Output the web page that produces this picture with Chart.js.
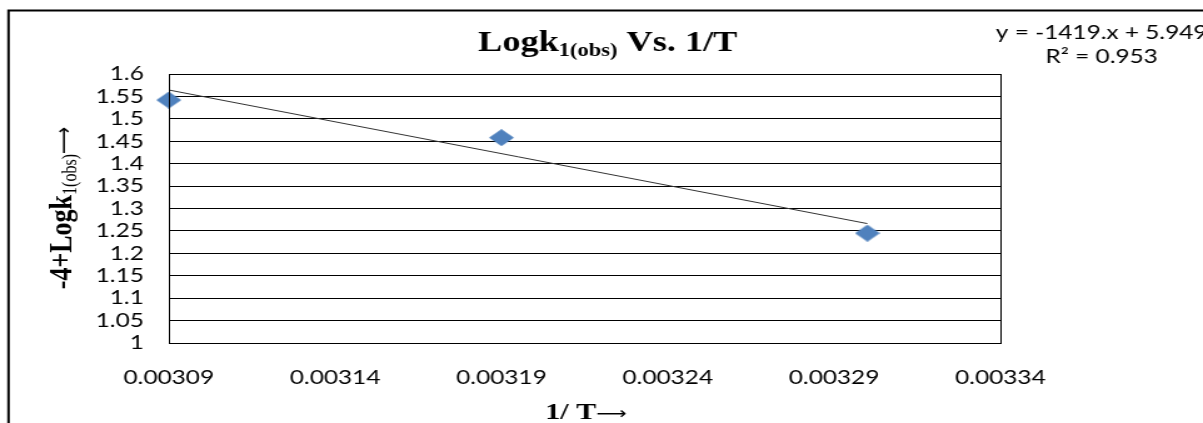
<!DOCTYPE html>
<html>
<head>
<meta charset="utf-8">
<script src="https://cdn.jsdelivr.net/npm/chart.js@4/dist/chart.umd.min.js"></script>
<style>
  html, body { margin: 0; padding: 0; background: #fff; }
</style>
</head>
<body>
<!-- the original picture is stretched sideways, so the canvas is drawn narrow and widened by css -->
<canvas id="plot1" width="962" height="423" style="width:1203px;height:423px"></canvas>
<script>
// values
var invT = [0.00309, 0.00319, 0.00330];
var logK = [1.542, 1.458, 1.245];
var xTicks = [0.00309, 0.00314, 0.00319, 0.00324, 0.00329, 0.00334];
var yTicks = [1, 1.05, 1.1, 1.15, 1.2, 1.25, 1.3, 1.35, 1.4, 1.45, 1.5, 1.55, 1.6];

// trendline from the printed equation
var trendSlope = -1419;
var trendIntercept = 5.949;
var eqLines = ["y = -1419.x + 5.949", "R\u00b2 = 0.953"];

// text pieces: 0 = main, 1 = subscript, 2 = thin arrow
var titleParts = [["Logk", 0], ["1(obs)", 1], [" Vs. 1/T", 0]];
var yTitleParts = [["-4+Logk", 0], ["1(obs)", 1], ["\u27f6", 2]];
var xTitleParts = [["1/ T", 0], ["\u27f6", 2]];

var trendData = [invT[0], invT[invT.length - 1]].map(function (v) {
  return { x: v, y: trendSlope * v + trendIntercept };
});

// diamond marker
var diamond = document.createElement("canvas");
diamond.width = 20;
diamond.height = 17;
var dctx = diamond.getContext("2d");
dctx.fillStyle = "#4F81BD";
dctx.beginPath();
dctx.moveTo(10, 0);
dctx.lineTo(20, 8.5);
dctx.lineTo(10, 17);
dctx.lineTo(0, 8.5);
dctx.closePath();
dctx.fill();

// draws text with subscript pieces, centred on x
function drawRich(ctx, parts, x, y, fonts, subDy) {
  var w = 0;
  parts.forEach(function (p) {
    ctx.font = fonts[p[1]];
    w += ctx.measureText(p[0]).width;
  });
  var cx = x - w / 2;
  ctx.textAlign = "left";
  ctx.textBaseline = "alphabetic";
  parts.forEach(function (p) {
    ctx.font = fonts[p[1]];
    ctx.fillText(p[0], cx, y + (p[1] == 1 ? subDy : 0));
    cx += ctx.measureText(p[0]).width;
  });
}

const extras = {
  id: "extras",
  afterDraw(chart) {
    const ctx = chart.ctx;
    const a = chart.chartArea;
    ctx.save();
    ctx.fillStyle = "#000";
    ctx.strokeStyle = "#000";

    // outer frame (top and left only)
    ctx.lineWidth = 2;
    ctx.beginPath();
    ctx.moveTo(6.8, 423);
    ctx.lineTo(6.8, 10.5);
    ctx.lineTo(chart.width, 10.5);
    ctx.stroke();

    // plot box
    ctx.lineWidth = 1;
    ctx.strokeRect(Math.round(a.left) + 0.5, Math.round(a.top) + 0.5,
      Math.round(a.right - a.left), Math.round(a.bottom - a.top));

    // chart title
    drawRich(ctx, titleParts, 486, 51,
      ["bold 29px 'Liberation Serif'", "bold 18px 'Liberation Serif'"], 5);

    // y axis title
    ctx.save();
    ctx.translate(57, 208);
    ctx.rotate(-Math.PI / 2);
    drawRich(ctx, yTitleParts, 0, 0,
      ["bold 26px 'Liberation Serif'", "16px 'Liberation Serif'", "19px 'DejaVu Sans'"], 4);
    ctx.restore();

    // x axis title
    drawRich(ctx, xTitleParts, (a.left + a.right) / 2 + 1, 419,
      ["bold 24px 'Liberation Serif'", "", "17px 'DejaVu Sans'"], 0);

    // trendline label
    ctx.font = "19.5px Lato";
    ctx.textAlign = "center";
    ctx.textBaseline = "middle";
    ctx.fillText(eqLines[0], 881, 33);
    ctx.fillText(eqLines[1], 881, 57);
    ctx.restore();
  },
};

const chart = new Chart(document.getElementById("plot1").getContext("2d"), {
  type: "scatter",
  data: {
    datasets: [
      {
        label: "Logk",
        data: invT.map(function (v, i) { return { x: v, y: logK[i] }; }),
        pointStyle: diamond,
        pointRadius: 10,
        backgroundColor: "#4F81BD",
        borderColor: "#4F81BD",
        clip: false,
        order: 0,
      },
      {
        type: "line",
        label: "Linear",
        data: trendData,
        borderColor: "#333",
        borderWidth: 1,
        pointRadius: 0,
        fill: false,
        order: 1,
      },
    ],
  },
  options: {
    responsive: false,
    devicePixelRatio: 1,
    animation: false,
    layout: { padding: { top: 74, right: 162, left: 0, bottom: 0 } },
    plugins: {
      legend: { display: false },
      title: { display: false },
      tooltip: { enabled: false },
    },
    scales: {
      x: {
        type: "linear",
        min: xTicks[0],
        max: xTicks[xTicks.length - 1],
        afterBuildTicks: function (s) { s.ticks = xTicks.map(function (v) { return { value: v }; }); },
        afterFit: function (s) { s.height = 80; },
        grid: { display: false },
        border: { display: true, color: "#000", width: 1 },
        ticks: {
          autoSkip: false,
          maxRotation: 0,
          padding: 15,
          color: "#000",
          font: { family: "Lato", size: 19.5 },
          callback: function (v) { return v.toFixed(5); },
        },
      },
      y: {
        min: yTicks[0],
        max: yTicks[yTicks.length - 1],
        afterBuildTicks: function (s) { s.ticks = yTicks.map(function (v) { return { value: v }; }); },
        afterFit: function (s) { s.width = 135; },
        grid: { color: "#000", drawTicks: false },
        border: { color: "#000" },
        ticks: {
          autoSkip: false,
          padding: 20,
          color: "#000",
          font: { family: "Lato", size: 19.5 },
          callback: function (v) { return String(Math.round(v * 100) / 100); },
        },
      },
    },
  },
  plugins: [extras],
});
</script>
</body>
</html>
